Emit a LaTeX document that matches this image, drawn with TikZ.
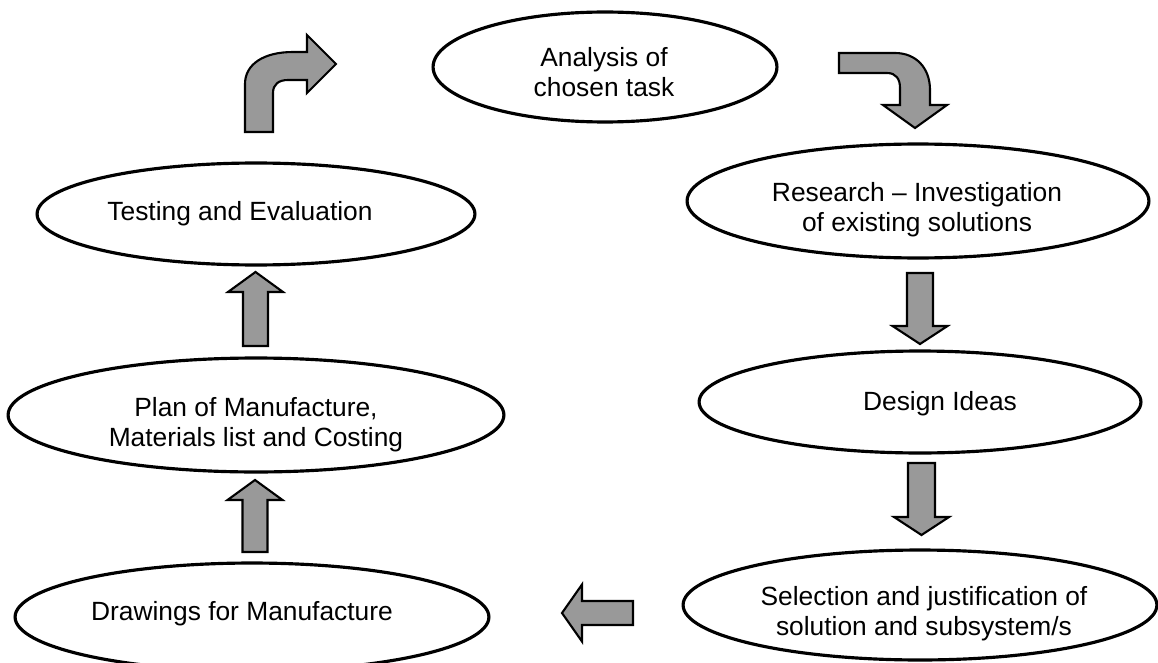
\documentclass[tikz,border=0pt]{standalone}
\usepackage{fontspec}
\setmainfont{Liberation Sans}
\usetikzlibrary{shapes.geometric}
\definecolor{arrowgray}{RGB}{153,153,153}
\tikzset{
  pics/blockarrow/.style n args={4}{code={
    \draw[barrow] (0,-#2) -- (#1-#4,-#2) -- (#1-#4,-#3) -- (#1,0) -- (#1-#4,#3) -- (#1-#4,#2) -- (0,#2) -- cycle;}},
}
\begin{document}
\begin{tikzpicture}[x=0.02cm,y=-0.02cm,
  stage/.style 2 args={ellipse, draw=black, line width=1.8pt, fill=white, inner sep=0pt,
    minimum width=#1*0.04cm, minimum height=#2*0.04cm},
  lbl/.style={font=\fontsize{15}{17}\selectfont, align=center, inner sep=0pt, text=black},
  barrow/.style={draw=black, line width=1.2pt, fill=arrowgray, line join=miter},
]
\useasboundingbox (0,0) rectangle (1158,662);
\fill[white] (0,0) rectangle (1158,662);
\clip (0,0) rectangle (1158,662);

% stages
\node[stage={172}{55}] (analysis) at (605,67) {};
\node[lbl] (analysis-t) at (604,72) {Analysis of\\chosen task};

\node[stage={231}{57}] (research) at (918,201) {};
\node[lbl] (research-t) at (917,210) {Research -- Investigation\\of existing solutions};

\node[stage={221}{51}] (design) at (920,402) {};
\node[lbl] (design-t) at (940,404) {Design Ideas};

\node[stage={237}{55}] (selection) at (920,605) {};
\node[lbl] (selection-t) at (924,614) {Selection and justification of\\solution and subsystem/s};

\node[stage={237}{54}] (drawings) at (252,617) {};
\node[lbl] (drawings-t) at (242,614) {Drawings for Manufacture};

\node[stage={248}{57}] (plan) at (256,415) {};
\node[lbl] (plan-t) at (256,425) {Plan of Manufacture,\\Materials list and Costing};

\node[stage={219}{51}] (testing) at (256,214) {};
\node[lbl] (testing-t) at (240,214) {Testing and Evaluation};

% straight block arrows
\pic[rotate=-90] at (920,273) {blockarrow={71}{13}{27.5}{18}};
\pic[rotate=-90] at (921.5,463) {blockarrow={72}{13.5}{27.5}{18}};
\pic[rotate=180] at (633,613) {blockarrow={71}{12}{28.5}{20}};
\pic[rotate=90] at (255,552) {blockarrow={72}{12.5}{27.5}{20}};
\pic[rotate=90] at (255.5,346) {blockarrow={74}{12.5}{27.5}{20}};

% curved block arrows
\draw[barrow] (245,132) -- (245,84) .. controls (245,64) and (264,52) .. (293,52)
  -- (307,52) -- (307,35) -- (336,64) -- (307,93) -- (307,80) -- (288,80)
  .. controls (279,80) and (273,84) .. (273,93) -- (273,132) -- cycle;

\draw[barrow] (839,53) -- (895,53) .. controls (916,53) and (930,68) .. (930,90)
  -- (930,105) -- (947,105) -- (915,128) -- (883,105) -- (900,105) -- (900,88)
  .. controls (900,79) and (896,73) .. (887,73) -- (839,73) -- cycle;
\end{tikzpicture}
\end{document}
